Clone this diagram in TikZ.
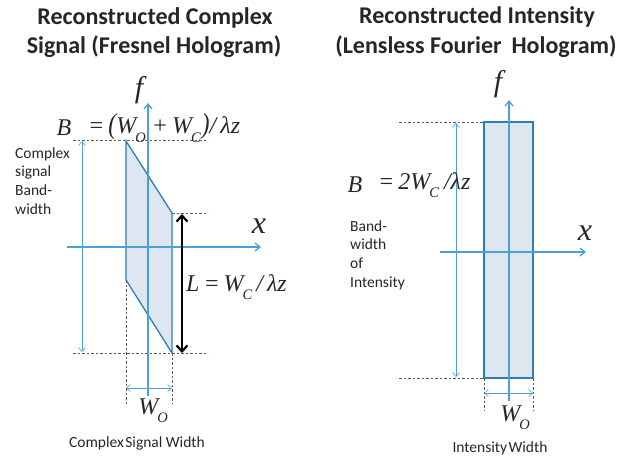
\documentclass[tikz,border=0pt]{standalone}
\usepackage{fontspec}
\setmainfont{Carlito}
\newfontfamily\tms{Liberation Serif}
\usetikzlibrary{arrows.meta}
\definecolor{axisblue}{RGB}{75,160,215}
\definecolor{shapeblue}{RGB}{46,125,182}
\definecolor{fillblue}{RGB}{222,231,240}
\definecolor{dashgray}{RGB}{90,90,90}
\definecolor{titlegray}{RGB}{38,38,38}
\newcommand\lowsub[1]{\raisebox{-0.35em}{\fontsize{14.5}{14.5}\selectfont\itshape #1}}
\newcommand\tallpar[1]{\scalebox{1}[1.2]{#1}}
\begin{document}
\begin{tikzpicture}[x=1pt,y=-1pt,
  axisline/.style={draw=axisblue,line width=1.3pt,-{Straight Barb[length=5pt,width=8pt]}},
  thinarrow/.style={draw=axisblue,line width=0.6pt,{Straight Barb[length=4pt,width=7pt]}-{Straight Barb[length=4pt,width=7pt]}},
  dashline/.style={draw=dashgray,line width=0.5pt,dash pattern=on 2.5pt off 2pt},
  shapebox/.style={draw=shapeblue,fill=fillblue,line width=1.3pt,line join=miter},
  bigarrow/.style={draw=black,line width=2.2pt,{Straight Barb[length=6pt,width=11pt]}-{Straight Barb[length=6pt,width=11pt]}},
  title/.style={font=\fontsize{24}{28}\selectfont\bfseries,text=titlegray,inner sep=0pt},
  small/.style={font=\fontsize{15.5}{18.7}\selectfont,text=titlegray,align=left,inner sep=0pt},
  eq/.style={font=\tms\fontsize{24}{26}\selectfont\itshape,text=titlegray,inner sep=0pt},
  axlabel/.style={font=\tms\fontsize{32}{32}\selectfont\itshape,text=titlegray,inner sep=0pt}
]
\useasboundingbox (0,0) rectangle (617,456);

% ---------------- left panel ----------------
\node[title] (lt1) at (155,18) {Reconstructed Complex};
\node[title] (lt2) at (154,47) {Signal (Fresnel Hologram)};

\coordinate (p1) at (126,141);
\coordinate (p2) at (172,213);
\coordinate (p3) at (172,353);
\coordinate (p4) at (126,280);
\draw[shapebox] (p1) -- (p2) -- (p3) -- (p4) -- cycle;

% dashed guides
\coordinate (d1a) at (73,140);  \coordinate (d1b) at (208,140);
\coordinate (d2a) at (73,353);  \coordinate (d2b) at (208,353);
\coordinate (d3b) at (208,213);
\coordinate (d4b) at (126,405);
\coordinate (d5b) at (172,403);
\draw[dashline] (d1a) -- (d1b);
\draw[dashline] (d2a) -- (d2b);
\draw[dashline] (p2) -- (d3b);
\draw[dashline] (p4) -- (d4b);
\draw[dashline] (p3) -- (d5b);

% axes
\coordinate (lfa) at (148,396); \coordinate (lfb) at (148,103);
\coordinate (lxa) at (67,247);  \coordinate (lxb) at (261,247);
\draw[axisline] (lfa) -- (lfb);
\draw[axisline] (lxa) -- (lxb);

% thin arrows
\coordinate (lba) at (82,141); \coordinate (lbb) at (82,352);
\draw[thinarrow] (lba) -- (lbb);
\coordinate (lwa) at (126,388); \coordinate (lwb) at (172,388);
\draw[thinarrow] (lwa) -- (lwb);

% black arrow
\coordinate (la) at (182,214); \coordinate (lb) at (182,353);
\draw[bigarrow] (la) -- (lb);

% labels
\node[axlabel,font=\tms\fontsize{30}{30}\selectfont\itshape] (lf) at (139,90) {f};
\node[axlabel] (lx) at (259,226) {x};
\node[eq] (lB) at (64,128) {B};
\node[eq,anchor=west] (lBeq) at (88,128) {=\,\tallpar{(}W\kern-1pt\lowsub{O}\kern2pt\,+\,W\kern-1pt\lowsub{C}\kern1pt\tallpar{)}/\,λz};
\node[eq,anchor=west] (lL) at (186,287) {L\,=\,W\kern-1pt\lowsub{C}\,/\,λz};
\node[eq] (lWO) at (153,411) {W\kern-1pt\lowsub{O}};
\node[small,anchor=west] (lband) at (15,181) {Complex\\signal\\Band-\\width};
\node[small] (lwidth) at (137,443) {Complex\hspace{1.5pt}Signal Width};

% ---------------- right panel ----------------
\node[title] (rt1) at (477,17) {Reconstructed Intensity};
\node[title] (rt2) at (476,47) {(Lensless Fourier\hspace{10pt}Hologram)};

\coordinate (r1) at (484,122);
\coordinate (r2) at (533,378);
\draw[shapebox] (r1) rectangle (r2);
\coordinate (r3) at (484,378);
\coordinate (r4) at (533,378);

\coordinate (rd1a) at (399,122);
\coordinate (rd2a) at (399,378);
\coordinate (rd3b) at (484,411);
\coordinate (rd4b) at (533,411);
\draw[dashline] (rd1a) -- (r1);
\draw[dashline] (rd2a) -- (r3);
\draw[dashline] (r3) -- (rd3b);
\draw[dashline] (r4) -- (rd4b);

\coordinate (rfa) at (509,401); \coordinate (rfb) at (509,100);
\coordinate (rxa) at (440,252); \coordinate (rxb) at (586,252);
\draw[axisline] (rfa) -- (rfb);
\draw[axisline] (rxa) -- (rxb);

\coordinate (rba) at (456,123); \coordinate (rbb) at (456,377);
\draw[thinarrow] (rba) -- (rbb);
\coordinate (rwa) at (484,393); \coordinate (rwb) at (533,393);
\draw[thinarrow] (rwa) -- (rwb);

\node[axlabel,font=\tms\fontsize{30}{30}\selectfont\itshape] (rf) at (498,84) {f};
\node[axlabel] (rx) at (585,233) {x};
\node[eq] (rB) at (355,185) {B};
\node[eq,anchor=west] (rBeq) at (378,185) {=\,2W\kern-1pt\lowsub{C}\kern1pt\,/λz};
\node[eq] (rWO) at (515,418) {W\kern-1pt\lowsub{O}};
\node[small,anchor=west] (rband) at (350,255) {Band-\\width\\of\\Intensity};
\node[small] (rwidth) at (500,448) {Intensity\hspace{1.5pt}Width};
\end{tikzpicture}
\end{document}
